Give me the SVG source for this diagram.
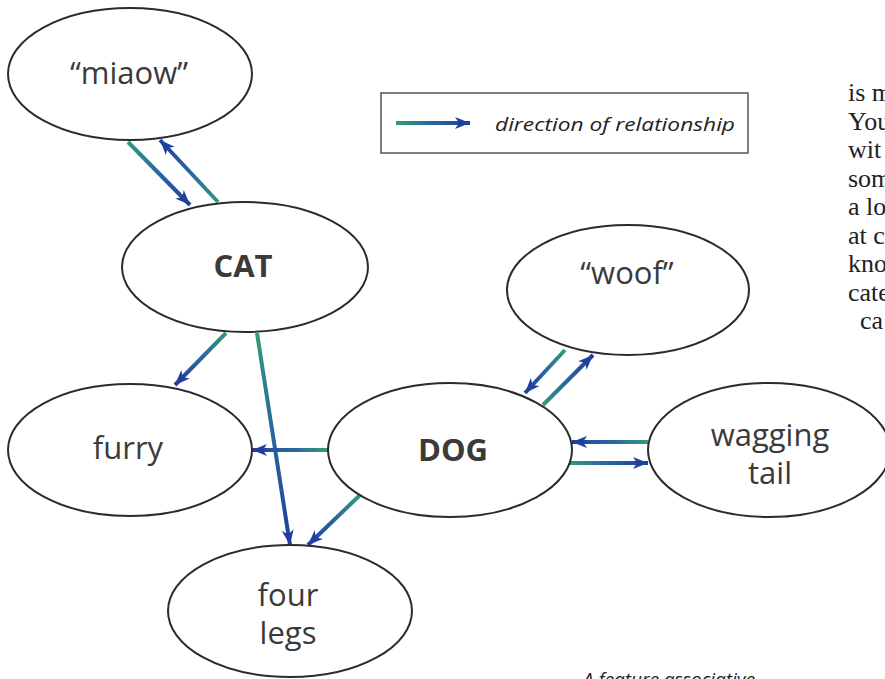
<svg xmlns="http://www.w3.org/2000/svg" xmlns:xlink="http://www.w3.org/1999/xlink" width="885" height="679" viewBox="0 0 885 679">
<style>
.node ellipse{fill:#fff;stroke:#2b2b2b;stroke-width:2}
.lbl{font-family:"Open Sans","Liberation Sans",sans-serif;font-size:31px;fill:#3a3a3a;text-anchor:middle}
.bold{font-weight:bold}
.conn line{stroke-width:4;fill:none;marker-end:url(#head)}
.it{font-family:"Open Sans","Liberation Sans",sans-serif;font-style:italic;font-size:19px;fill:#222}
.body{font-family:"Liberation Serif","Times New Roman",serif;font-size:26px;fill:#222}
</style>
<defs>
<linearGradient id="g">
<stop offset="0" stop-color="#2f9c78"/>
<stop offset="0.45" stop-color="#2a68a0"/>
<stop offset="1" stop-color="#213f9c"/>
</linearGradient>
<linearGradient id="g1" href="#g" xlink:href="#g" gradientUnits="userSpaceOnUse" x1="128" y1="142" x2="190" y2="205"/>
<linearGradient id="g2" href="#g" xlink:href="#g" gradientUnits="userSpaceOnUse" x1="218" y1="202" x2="160" y2="140"/>
<linearGradient id="g3" href="#g" xlink:href="#g" gradientUnits="userSpaceOnUse" x1="226" y1="333" x2="175" y2="385"/>
<linearGradient id="g4" href="#g" xlink:href="#g" gradientUnits="userSpaceOnUse" x1="257" y1="333" x2="290" y2="545"/>
<linearGradient id="g5" href="#g" xlink:href="#g" gradientUnits="userSpaceOnUse" x1="328" y1="450" x2="252" y2="450"/>
<linearGradient id="g6" href="#g" xlink:href="#g" gradientUnits="userSpaceOnUse" x1="360" y1="495" x2="308" y2="545"/>
<linearGradient id="g7" href="#g" xlink:href="#g" gradientUnits="userSpaceOnUse" x1="543" y1="405" x2="593" y2="355"/>
<linearGradient id="g8" href="#g" xlink:href="#g" gradientUnits="userSpaceOnUse" x1="565" y1="350" x2="525" y2="393"/>
<linearGradient id="g9" href="#g" xlink:href="#g" gradientUnits="userSpaceOnUse" x1="648" y1="442" x2="572" y2="442"/>
<linearGradient id="g10" href="#g" xlink:href="#g" gradientUnits="userSpaceOnUse" x1="568" y1="463" x2="648" y2="463"/>
<linearGradient id="g11" href="#g" xlink:href="#g" gradientUnits="userSpaceOnUse" x1="396" y1="123" x2="470" y2="123"/>
<marker id="head" markerUnits="userSpaceOnUse" markerWidth="18" markerHeight="14" refX="15" refY="6" orient="auto" viewBox="0 0 18 12">
<path d="M0,0 L15,6 L0,12 L4,6 z" fill="#213f9c"/>
</marker>
</defs>

<g id="connectors" class="conn">
<line x1="128" y1="142" x2="190" y2="205" stroke="url(#g1)"/>
<line x1="218" y1="202" x2="160" y2="140" stroke="url(#g2)"/>
<line x1="226" y1="333" x2="175" y2="385" stroke="url(#g3)"/>
<line x1="257" y1="333" x2="290" y2="545" stroke="url(#g4)"/>
<line x1="328" y1="450" x2="252" y2="450" stroke="url(#g5)"/>
<line x1="360" y1="495" x2="308" y2="545" stroke="url(#g6)"/>
<line x1="543" y1="405" x2="593" y2="355" stroke="url(#g7)"/>
<line x1="565" y1="350" x2="525" y2="393" stroke="url(#g8)"/>
<line x1="648" y1="442" x2="572" y2="442" stroke="url(#g9)"/>
<line x1="568" y1="463" x2="648" y2="463" stroke="url(#g10)"/>
</g>

<g id="miaow" class="node">
<ellipse cx="130" cy="74" rx="122" ry="66"/>
<text class="lbl" x="129" y="84">“miaow”</text>
</g>
<g id="cat" class="node">
<ellipse cx="245" cy="267" rx="123" ry="65"/>
<text class="lbl bold" x="243" y="277">CAT</text>
</g>
<g id="woof" class="node">
<ellipse cx="628" cy="290" rx="121" ry="65"/>
<text class="lbl" x="627" y="284">“woof”</text>
</g>
<g id="furry" class="node">
<ellipse cx="130" cy="450" rx="122" ry="66"/>
<text class="lbl" x="128" y="459">furry</text>
</g>
<g id="dog" class="node">
<ellipse cx="450" cy="450" rx="122" ry="67"/>
<text class="lbl bold" x="453" y="461">DOG</text>
</g>
<g id="wagging" class="node">
<ellipse cx="769" cy="450" rx="121" ry="67"/>
<text class="lbl" x="770" y="446">wagging</text>
<text class="lbl" x="770" y="484">tail</text>
</g>
<g id="fourlegs" class="node">
<ellipse cx="290" cy="611" rx="122" ry="66"/>
<text class="lbl" x="288" y="606">four</text>
<text class="lbl" x="288" y="644">legs</text>
</g>

<g id="legend">
<rect x="381" y="93" width="367" height="60" fill="#fff" stroke="#555" stroke-width="1.5"/>
<line x1="396" y1="123" x2="470" y2="123" stroke="url(#g11)" stroke-width="4" marker-end="url(#head)"/>
<text class="it" x="495" y="131" textLength="240" lengthAdjust="spacingAndGlyphs">direction of relationship</text>
</g>

<g id="bodytext" class="body">
<text x="848" y="101">is m</text>
<text x="848" y="130">You</text>
<text x="848" y="158">wit</text>
<text x="848" y="187">som</text>
<text x="848" y="215">a lo</text>
<text x="848" y="244">at c</text>
<text x="848" y="272">kno</text>
<text x="848" y="301">cate</text>
<text x="860" y="329">ca</text>
</g>

<text class="it" x="583" y="686">A feature associative</text>
</svg>
